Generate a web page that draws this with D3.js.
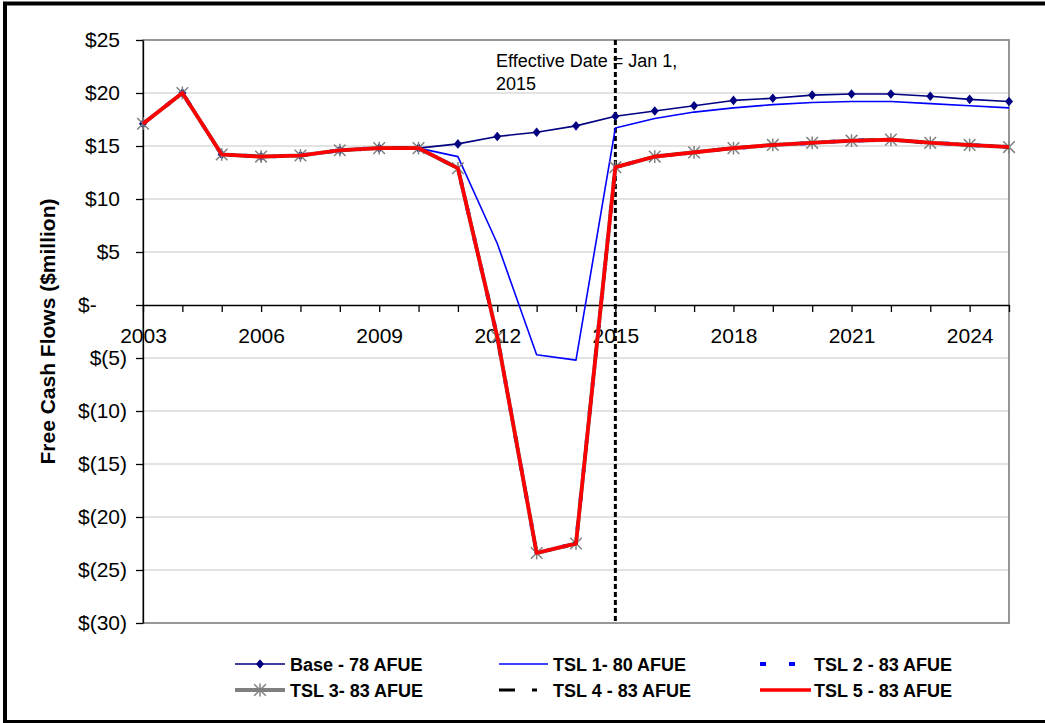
<!DOCTYPE html>
<html>
<head>
<meta charset="utf-8">
<script src="https://cdn.jsdelivr.net/npm/d3@7"></script>
<style>
  html, body { margin: 0; padding: 0; background: #fff; }
  svg { display: block; font-family: "Liberation Sans", Arial, sans-serif; }
</style>
</head>
<body>
<svg id="chart" width="1045" height="723"></svg>
<script>
// Free cash flow projections, $ million, by year
const years = d3.range(2003, 2026);
const base  = [17.1, 20.0, 14.2, 14.0, 14.1, 14.6, 14.8, 14.8, 15.2, 15.9, 16.3, 16.9, 17.8, 18.3, 18.8, 19.3, 19.5, 19.8, 19.9, 19.9, 19.7, 19.4, 19.2];
const tsl1  = [17.1, 20.0, 14.2, 14.0, 14.1, 14.6, 14.8, 14.8, 14.0, 5.8, -4.7, -5.2, 16.7, 17.6, 18.2, 18.6, 18.9, 19.1, 19.2, 19.2, 19.0, 18.8, 18.6];
const tsl2  = [17.1, 20.0, 14.2, 14.0, 14.1, 14.6, 14.8, 14.8, 12.9, -3.0, -23.4, -22.5, 13.0, 14.0, 14.4, 14.8, 15.1, 15.3, 15.5, 15.6, 15.3, 15.1, 14.9];
const tsl3  = [17.1, 20.0, 14.2, 14.0, 14.1, 14.6, 14.8, 14.8, 12.9, -3.0, -23.4, -22.5, 13.0, 14.0, 14.4, 14.8, 15.1, 15.3, 15.5, 15.6, 15.3, 15.1, 14.9];
const tsl4  = [17.1, 20.0, 14.2, 14.0, 14.1, 14.6, 14.8, 14.8, 12.9, -3.0, -23.4, -22.5, 13.0, 14.0, 14.4, 14.8, 15.1, 15.3, 15.5, 15.6, 15.3, 15.1, 14.9];
const tsl5  = [17.1, 20.0, 14.2, 14.0, 14.1, 14.6, 14.8, 14.8, 12.9, -3.0, -23.4, -22.5, 13.0, 14.0, 14.4, 14.8, 15.1, 15.3, 15.5, 15.6, 15.3, 15.1, 14.9];
const seriesNames = ["Base - 78 AFUE", "TSL 1- 80 AFUE", "TSL 2 - 83 AFUE", "TSL 3- 83 AFUE", "TSL 4 - 83 AFUE", "TSL 5 - 83 AFUE"];
const yTicks = [25, 20, 15, 10, 5, 0, -5, -10, -15, -20, -25, -30];
const xLabelYears = [2003, 2006, 2009, 2012, 2015, 2018, 2021, 2024];
const effectiveYear = 2015;
const noteLines = ["Effective Date = Jan 1,", "2015"];

const styles = [
  { color: "#000080", width: 1.6, dash: null, marker: "diamond" },
  { color: "#0000ff", width: 1.6, dash: null, marker: null },
  { color: "#0000ff", width: 4, dash: "6,23", marker: null },
  { color: "#808080", width: 4, dash: null, marker: "star" },
  { color: "#000000", width: 3, dash: "16,17,5,11", marker: null },
  { color: "#ff0000", width: 3.6, dash: null, marker: null }
];
const seriesData = [base, tsl1, tsl2, tsl3, tsl4, tsl5];

const svg = d3.select("#chart");
const plot = { left: 143, right: 1009, top: 40, bottom: 623 };

const x = d3.scaleLinear().domain([2003, 2025]).range([plot.left, plot.right]);
const y = d3.scaleLinear().domain([-30, 25]).range([plot.bottom, plot.top]);

// outer frame
svg.append("rect")
  .attr("x", 5).attr("y", 3.5).attr("width", 1100).attr("height", 718.5)
  .attr("fill", "none").attr("stroke", "#000").attr("stroke-width", 4);

// horizontal gridlines
svg.append("g").selectAll("line")
  .data(yTicks.filter(v => v !== 0 && v !== 25 && v !== -30))
  .join("line")
  .attr("x1", plot.left).attr("x2", plot.right)
  .attr("y1", d => y(d)).attr("y2", d => y(d))
  .attr("stroke", "#c8c8c8").attr("stroke-width", 1.2);

// plot area border
svg.append("rect")
  .attr("x", plot.left).attr("y", plot.top)
  .attr("width", plot.right - plot.left).attr("height", plot.bottom - plot.top)
  .attr("fill", "none").attr("stroke", "#8c8c8c").attr("stroke-width", 1.8);

// y axis
const fmt = v => v > 0 ? "$" + v : v === 0 ? "$-" : "$(" + (-v) + ")";
const yAxis = svg.append("g")
  .attr("transform", `translate(${plot.left},0)`)
  .call(d3.axisLeft(y).tickValues(yTicks).tickFormat(fmt).tickSizeInner(7).tickSizeOuter(0).tickPadding(9));
yAxis.selectAll("text")
  .attr("font-size", 21).attr("fill", "#000")
  .attr("font-family", "Liberation Sans, Arial, sans-serif")
  .attr("dx", d => d > 0 ? "-0.333em" : d === 0 ? "-1.445em" : 0);
yAxis.select(".domain").attr("stroke", "#000").attr("stroke-width", 1.3);
yAxis.selectAll(".tick line").attr("stroke", "#000").attr("stroke-width", 1.3);

// x axis along zero
const xAxis = svg.append("g")
  .attr("transform", `translate(0,${y(0)})`)
  .call(d3.axisBottom(x).tickValues(years)
    .tickFormat(d => xLabelYears.includes(d) ? String(d) : "")
    .tickSizeInner(7).tickSizeOuter(0).tickPadding(16));
xAxis.selectAll("text")
  .attr("font-size", 21).attr("fill", "#000")
  .attr("font-family", "Liberation Sans, Arial, sans-serif");
xAxis.select(".domain").attr("stroke", "#000").attr("stroke-width", 1.3);
xAxis.selectAll(".tick line").attr("stroke", "#000").attr("stroke-width", 1.3);

// effective date marker
svg.append("line")
  .attr("x1", x(effectiveYear)).attr("x2", x(effectiveYear))
  .attr("y1", plot.top).attr("y2", plot.bottom)
  .attr("stroke", "#000").attr("stroke-width", 3).attr("stroke-dasharray", "5,3");

svg.append("text")
  .attr("x", 496).attr("y", 67)
  .attr("font-size", 18).attr("fill", "#000")
  .selectAll("tspan").data(noteLines).join("tspan")
  .attr("x", 496).attr("dy", (d, i) => i === 0 ? 0 : 22.5)
  .text(d => d);

// marker shapes
const diamondPath = "M0,-4.8L4,0L0,4.8L-4,0Z";
function drawMarker(g, type, cx, cy, color) {
  if (type === "diamond") {
    g.append("path").attr("d", diamondPath)
      .attr("transform", `translate(${cx},${cy})`).attr("fill", color);
  } else if (type === "star") {
    const s = g.append("g").attr("transform", `translate(${cx},${cy})`)
      .attr("stroke", color).attr("stroke-width", 1.5);
    const r = 5.8;
    s.append("line").attr("x1", -r).attr("x2", r).attr("y1", -r).attr("y2", r);
    s.append("line").attr("x1", -r).attr("x2", r).attr("y1", r).attr("y2", -r);
    s.append("line").attr("x1", 0).attr("x2", 0).attr("y1", -r * 1.1).attr("y2", r * 1.1);
  }
}

// series lines and markers
const line = d3.line().x((d, i) => x(years[i])).y(d => y(d));
seriesData.forEach((vals, si) => {
  const st = styles[si];
  const g = svg.append("g");
  g.append("path").datum(vals)
    .attr("d", line).attr("fill", "none")
    .attr("stroke", st.color).attr("stroke-width", st.width)
    .attr("stroke-dasharray", st.dash).attr("stroke-linejoin", "round");
  if (st.marker) {
    vals.forEach((v, i) => drawMarker(g, st.marker, x(years[i]), y(v), st.color));
  }
});

// legend
const legendCols = [{ x0: 235, x1: 285, tx: 290 }, { x0: 499, x1: 548, tx: 553 }, { x0: 760, x1: 811, tx: 814 }];
const legendRows = [664, 690];
const legend = svg.append("g");
seriesNames.forEach((name, i) => {
  const col = legendCols[i % 3];
  const ry = legendRows[Math.floor(i / 3)];
  const st = styles[i];
  legend.append("line")
    .attr("x1", col.x0).attr("x2", col.x1).attr("y1", ry).attr("y2", ry)
    .attr("stroke", st.color).attr("stroke-width", st.width)
    .attr("stroke-dasharray", st.dash);
  if (st.marker) drawMarker(legend, st.marker, (col.x0 + col.x1) / 2, ry, st.color);
  legend.append("text")
    .attr("x", col.tx).attr("y", ry + 6.5)
    .attr("font-size", 18).attr("font-weight", "bold").attr("fill", "#000")
    .text(name);
});

// y axis title
svg.append("text")
  .attr("transform", `translate(55,${(plot.top + plot.bottom) / 2}) rotate(-90)`)
  .attr("text-anchor", "middle")
  .attr("font-size", 21).attr("font-weight", "bold").attr("fill", "#000")
  .text("Free Cash Flows ($million)");
</script>
</body>
</html>
